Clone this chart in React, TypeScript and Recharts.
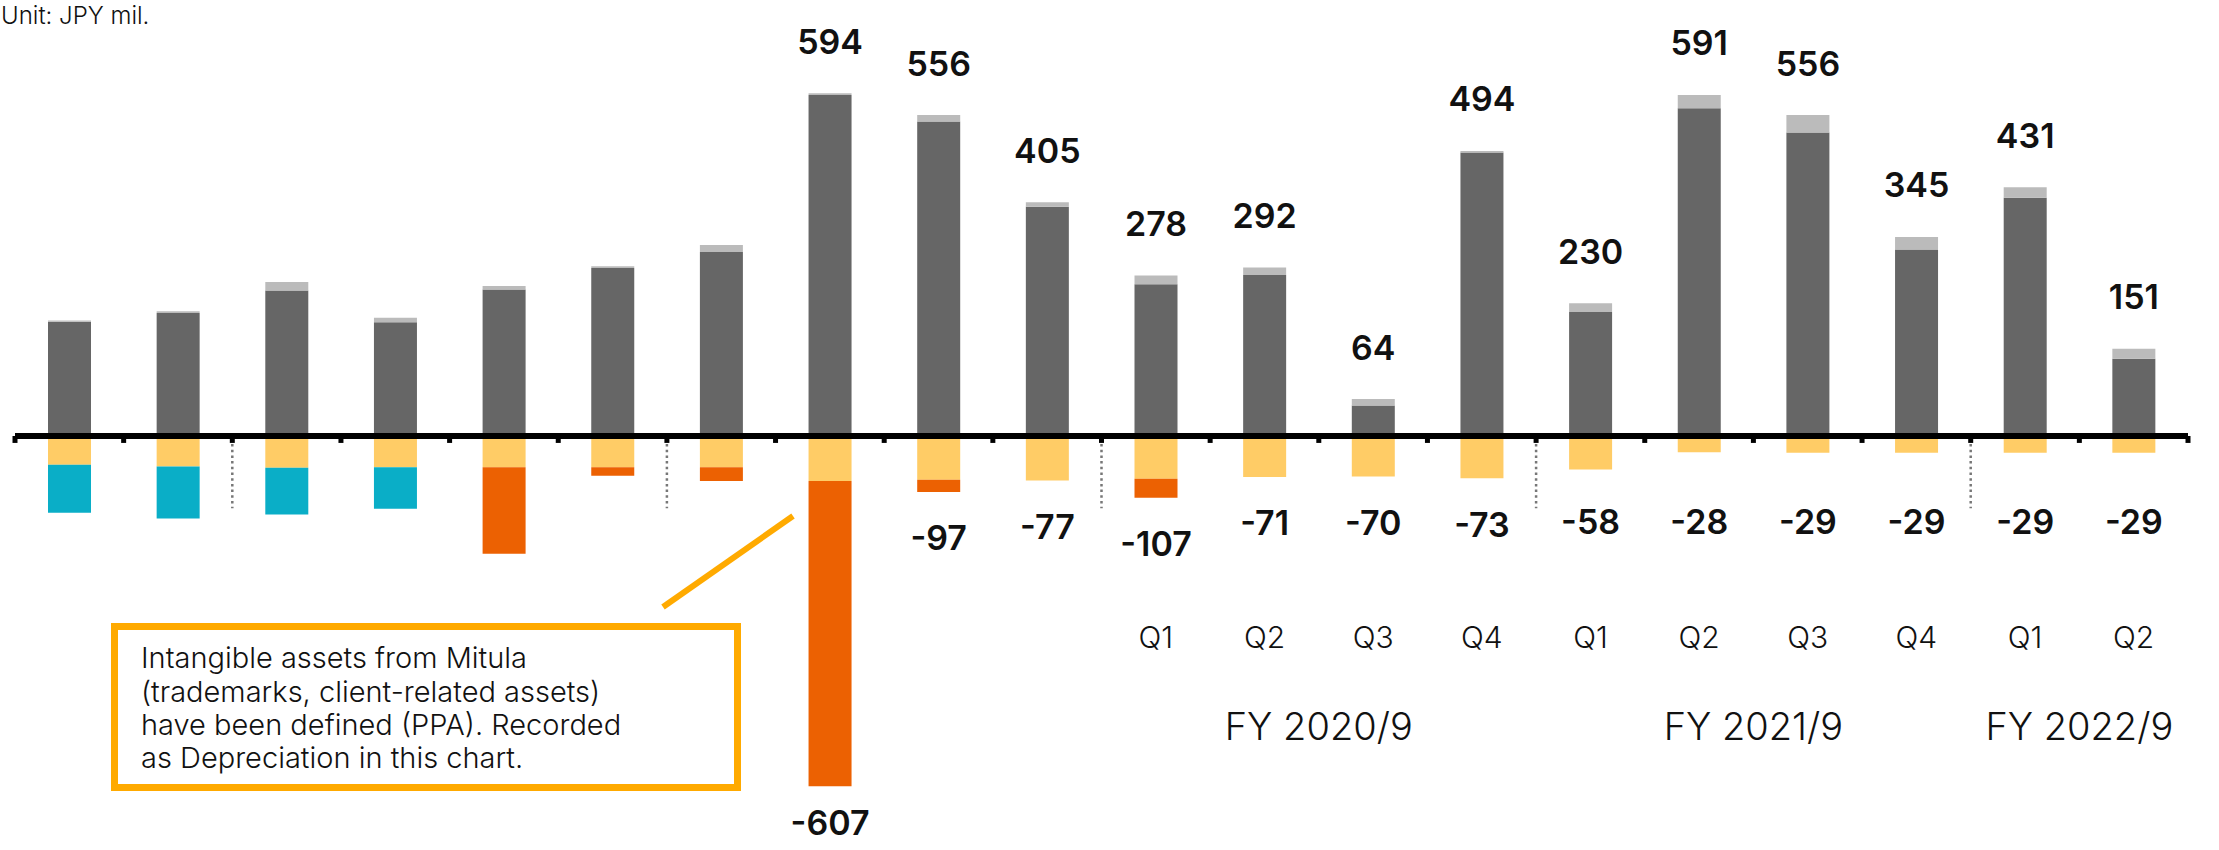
import React from "react"
import { BarChart, Bar, XAxis, YAxis, ReferenceLine, ReferenceArea, LabelList } from "recharts"

// quarters, oldest first
const periods = [
  "FY17 Q3", "FY17 Q4",
  "FY18 Q1", "FY18 Q2", "FY18 Q3", "FY18 Q4",
  "FY19 Q1", "FY19 Q2", "FY19 Q3", "FY19 Q4",
  "FY20 Q1", "FY20 Q2", "FY20 Q3", "FY20 Q4",
  "FY21 Q1", "FY21 Q2", "FY21 Q3", "FY21 Q4",
  "FY22 Q1", "FY22 Q2",
]
const tickLabels = ["", "", "", "", "", "", "", "", "", "", "Q1", "Q2", "Q3", "Q4", "Q1", "Q2", "Q3", "Q4", "Q1", "Q2"]

// JPY mil.
const mainValues = [198, 213, 252, 197, 254, 291, 319, 591, 545, 397, 263, 279, 53, 491, 215, 568, 526, 323, 413, 134]
const otherValues = [2, 3, 15, 8, 6, 3, 12, 3, 11, 8, 15, 13, 11, 3, 15, 23, 30, 22, 18, 17]
const yellowValues = [-50, -53, -55, -54, -54, -54, -54, -78, -76, -77, -74, -71, -70, -73, -58, -28, -29, -29, -29, -29]
const tealValues = [-83, -90, -81, -72, 0, 0, 0, 0, 0, 0, 0, 0, 0, 0, 0, 0, 0, 0, 0, 0]
const orangeValues = [0, 0, 0, 0, -150, -15, -24, -529, -21, 0, -33, 0, 0, 0, 0, 0, 0, 0, 0, 0]

const totalLabels = [null, null, null, null, null, null, null, 594, 556, 405, 278, 292, 64, 494, 230, 591, 556, 345, 431, 151]
const negLabels = [null, null, null, null, null, null, null, -607, -97, -77, -107, -71, -70, -73, -58, -28, -29, -29, -29, -29]

const fiscalYears = [
  { name: "FY 2020/9", from: 10, to: 13 },
  { name: "FY 2021/9", from: 14, to: 17 },
  { name: "FY 2022/9", from: 18, to: 19 },
]
const yearStarts = [2, 6, 10, 14, 18]

const FONT = "Inter, 'Noto Sans', sans-serif"

const data = periods.map((p, i) => ({
  period: p,
  main: mainValues[i],
  other: otherValues[i],
  yellow: yellowValues[i],
  teal: tealValues[i],
  orange: orangeValues[i],
  total: totalLabels[i],
  negOrange: orangeValues[i] < 0 ? negLabels[i] : null,
  negYellow: orangeValues[i] < 0 ? null : negLabels[i],
}))

function box(props: any) {
  const vb = props.viewBox || props
  const { x, y, width, height } = vb
  return { x, width, top: Math.min(y, y + height), bottom: Math.max(y, y + height) }
}

const PosLabel = (props: any) => {
  if (props.value == null) return null
  const b = box(props)
  return (
    <text x={b.x + b.width / 2} y={b.top - 52} textAnchor="middle" dominantBaseline="central"
      fontFamily={FONT} fontWeight={600} fontSize={34} fill="#111">
      {props.value}
    </text>
  )
}

const NegLabel = (props: any) => {
  if (props.value == null) return null
  const b = box(props)
  const y = Math.min(Math.max(b.bottom + 46, 521), 822)
  return (
    <text x={b.x + b.width / 2} y={y} textAnchor="middle" dominantBaseline="central"
      fontFamily={FONT} fontWeight={600} fontSize={34} fill="#111">
      {props.value}
    </text>
  )
}

const QuarterTick = (props: any) => {
  const { x, payload } = props
  const label = tickLabels[payload.index] ?? ""
  return (
    <text x={x} y={637} textAnchor="middle" dominantBaseline="central"
      fontFamily={FONT} fontWeight={300} fontSize={30} fill="#111">
      {label}
    </text>
  )
}

export default function App() {
  return (
    <div style={{ position: "absolute", left: 0, top: 0, width: 2219, height: 850, background: "#fff" }}>
      <BarChart width={2219} height={850} data={data} stackOffset="sign" barSize={43}
        margin={{ top: 32, right: 31, left: 15, bottom: 0 }}>
        <XAxis dataKey="period" height={10} axisLine={false} tickLine={false} tick={<QuarterTick />} interval={0} />
        <YAxis hide domain={[-700, 700]} />
        <Bar dataKey="main" stackId="a" fill="#666666" isAnimationActive={false} />
        <Bar dataKey="other" stackId="a" fill="#BBBBBB" isAnimationActive={false}>
          <LabelList dataKey="total" content={<PosLabel />} />
        </Bar>
        <Bar dataKey="yellow" stackId="a" fill="#FFCC66" isAnimationActive={false}>
          <LabelList dataKey="negYellow" content={<NegLabel />} />
        </Bar>
        <Bar dataKey="teal" stackId="a" fill="#0AAEC7" isAnimationActive={false} />
        <Bar dataKey="orange" stackId="a" fill="#EC6102" isAnimationActive={false}>
          <LabelList dataKey="negOrange" content={<NegLabel />} />
        </Bar>

        {fiscalYears.map((fy) => (
          <ReferenceArea key={fy.name} x1={periods[fy.from]} x2={periods[fy.to]} y1={-490} y2={-515}
            fill="none" stroke="none" ifOverflow="visible"
            label={{ value: fy.name, position: "center", fontFamily: FONT, fontWeight: 300, fontSize: 38, fill: "#111" }} />
        ))}

        {yearStarts.map((i) => (
          <ReferenceLine key={"d" + i} position="start" stroke="#777" strokeWidth={2.5} strokeDasharray="2.5 3.2"
            segment={[{ x: periods[i], y: -4 }, { x: periods[i], y: -125 }]} ifOverflow="visible" />
        ))}
        {periods.map((p) => (
          <ReferenceLine key={"t" + p} position="start" stroke="#000" strokeWidth={5}
            segment={[{ x: p, y: 0 }, { x: p, y: -12 }]} ifOverflow="visible" />
        ))}
        <ReferenceLine position="end" stroke="#000" strokeWidth={5} ifOverflow="visible"
          segment={[{ x: periods[periods.length - 1], y: 0 }, { x: periods[periods.length - 1], y: -12 }]} />
        <ReferenceLine y={0} stroke="#000" strokeWidth={6} />
      </BarChart>

      <svg width={2219} height={850} style={{ position: "absolute", left: 0, top: 0, pointerEvents: "none" }}>
        <text x={1} y={24} fontFamily={FONT} fontWeight={300} fontSize={24} fill="#111">Unit: JPY mil.</text>
        <line x1={663} y1={607} x2={793} y2={516} stroke="#FFAA00" strokeWidth={6} />
        <rect x={114.5} y={626.5} width={623} height={161} fill="#fff" stroke="#FFAA00" strokeWidth={7} />
        <g fontFamily={FONT} fontWeight={300} fontSize={29} fill="#111">
          <text x={141} y={668}>Intangible assets from Mitula</text>
          <text x={141} y={702}>(trademarks, client-related assets)</text>
          <text x={141} y={735}>have been defined (PPA). Recorded</text>
          <text x={141} y={768}>as Depreciation in this chart.</text>
        </g>
      </svg>
    </div>
  )
}
